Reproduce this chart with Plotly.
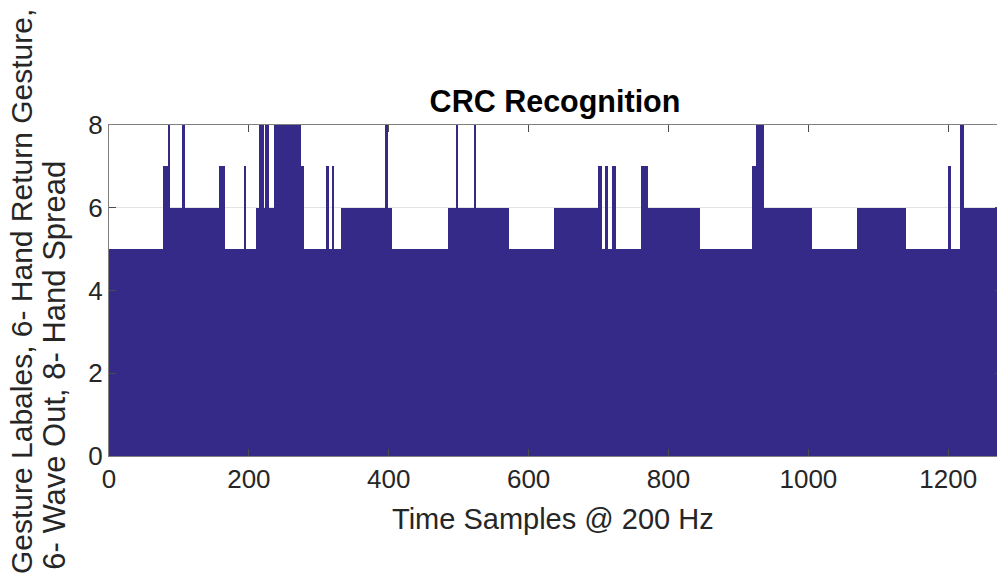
import numpy as np
import plotly.graph_objects as go

# Recognised gesture label per time sample, stored as runs (start sample, label)
run_start = [0, 78, 83, 84, 86, 105, 107, 158, 165, 193, 195, 211, 215, 221, 223, 227,
             236, 273, 278, 311, 313, 319, 321, 332, 395, 397, 404, 485, 496, 498, 522,
             524, 570, 636, 699, 703, 710, 712, 720, 723, 761, 769, 844, 920, 926, 936,
             1004, 1070, 1139, 1200, 1202, 1217, 1221]
run_value = [5, 7, 6, 8, 6, 8, 6, 7, 5, 7, 5, 6, 8, 6, 8, 6,
             8, 7, 5, 7, 5, 7, 5, 6, 8, 6, 5, 6, 8, 6, 8,
             6, 5, 6, 7, 5, 7, 5, 7, 5, 7, 6, 5, 7, 8, 6,
             5, 6, 5, 7, 5, 8, 6]
n_samples = 1270

x_ticks = [0, 200, 400, 600, 800, 1000, 1200]
y_ticks = [0, 2, 4, 6, 8]

lengths = np.diff(run_start + [n_samples])
labels = np.repeat(run_value, lengths)
samples = np.arange(1, n_samples + 1)

BAR = "#352A87"
FONT = "Liberation Sans, Arial, Helvetica, sans-serif"
TXT = "#262626"

# figure slightly wider than the window: the picture is cropped at the right
W, H = 1002, 585
L, T = 109, 124.5
PW, PH = W - L, 332
B = H - T - PH
X_MAX = PW / 0.6994

def px_x(px):  # window pixel -> paper x
    return (px - L) / PW

def px_y(py):  # window pixel -> paper y
    return (T + PH - py) / PH

fig = go.Figure()
fig.add_trace(go.Bar(x=samples, y=labels, marker=dict(color=BAR, line=dict(width=0)),
                     hoverinfo="x+y"))

fig.update_layout(
    width=W, height=H,
    margin=dict(l=L, r=0, t=T, b=B),
    paper_bgcolor="white", plot_bgcolor="white",
    bargap=0, showlegend=False,
    font=dict(family=FONT, color=TXT, size=26),
    title=dict(text="<b>CRC Recognition</b>", x=px_x(555), xref="paper", xanchor="center",
               y=1 - 101 / H, yref="container", yanchor="middle",
               font=dict(size=30.5, color="#000000", family=FONT)),
)
fig.update_xaxes(range=[0, X_MAX], tickvals=x_ticks, ticks="inside", ticklen=7,
                 tickcolor="#4d4d4d", showline=True, linecolor="#808080", linewidth=1,
                 mirror="ticks", showgrid=False, zeroline=False,
                 tickfont=dict(size=26, color=TXT))
fig.update_yaxes(range=[0, 8], tickvals=y_ticks, ticks="inside", ticklen=7,
                 tickcolor="#4d4d4d", showline=True, linecolor="#808080", linewidth=1,
                 mirror="ticks", showgrid=True, gridcolor="#e3e3e3", zeroline=False,
                 tickfont=dict(size=26, color=TXT))

fig.add_annotation(text="Time Samples @ 200 Hz", xref="paper", yref="paper",
                   x=px_x(553), y=px_y(520), xanchor="center", yanchor="middle",
                   showarrow=False, font=dict(size=29, color=TXT, family=FONT))
fig.add_annotation(text="Gesture Labales, 6- Hand Return Gesture,", xref="paper", yref="paper",
                   x=px_x(22), y=px_y(292), xanchor="center", yanchor="middle",
                   textangle=-90, showarrow=False, font=dict(size=30, color=TXT, family=FONT))
fig.add_annotation(text="6- Wave Out, 8- Hand Spread", xref="paper", yref="paper",
                   x=px_x(55), y=px_y(366), xanchor="center", yanchor="middle",
                   textangle=-90, showarrow=False, font=dict(size=31, color=TXT, family=FONT))

fig.write_html("out.html", config={"displayModeBar": False},
               post_script="document.body.style.margin='0';"
                           "document.body.style.overflow='hidden';")
